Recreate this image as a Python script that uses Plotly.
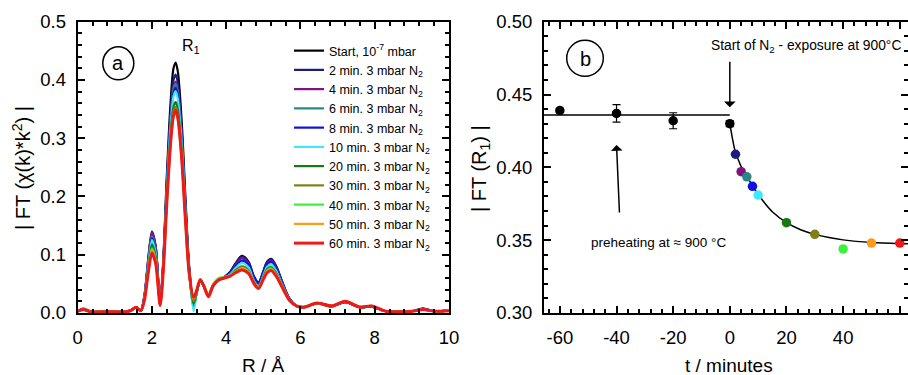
import plotly.graph_objects as go

# ---------------- data: panel (a) ----------------
R = [0.0, 0.15, 0.35, 0.7, 1.0, 1.3, 1.45, 1.57, 1.7, 1.8, 1.9, 2.0, 2.1, 2.22, 2.3, 2.4, 2.5, 2.58,
     2.64, 2.7, 2.8, 2.9, 3.0, 3.12, 3.2, 3.3, 3.4, 3.52, 3.65, 3.8, 3.95, 4.1, 4.25, 4.42, 4.6, 4.75,
     4.87, 5.0, 5.1, 5.21, 5.35, 5.5, 5.7, 5.9, 6.1, 6.44, 6.85, 7.2, 7.6, 7.92, 8.3, 8.7, 9.0, 9.3,
     9.6, 10.0]

ft_start = [0.003, 0.007, 0.002, 0.002, 0.002, 0.002, 0.005, 0.010, 0.004, 0.030, 0.090, 0.136, 0.112, 0.015,
            0.085, 0.235, 0.360, 0.420, 0.430, 0.413, 0.330, 0.200, 0.082, 0.018, 0.035, 0.056, 0.045, 0.031,
            0.048, 0.057, 0.062, 0.070, 0.085, 0.098, 0.088, 0.062, 0.052, 0.072, 0.088, 0.093, 0.080, 0.055,
            0.025, 0.012, 0.010, 0.017, 0.012, 0.019, 0.010, 0.011, 0.003, 0.002, 0.003, 0.006, 0.003, 0.004]
ft_2min = [0.003, 0.006, 0.002, 0.002, 0.002, 0.002, 0.005, 0.010, 0.004, 0.031, 0.093, 0.140, 0.115, 0.015,
           0.081, 0.224, 0.342, 0.400, 0.409, 0.393, 0.314, 0.190, 0.078, 0.015, 0.034, 0.056, 0.045, 0.030,
           0.047, 0.057, 0.062, 0.070, 0.084, 0.097, 0.087, 0.061, 0.050, 0.071, 0.087, 0.092, 0.079, 0.054,
           0.025, 0.012, 0.010, 0.017, 0.012, 0.019, 0.010, 0.011, 0.003, 0.002, 0.003, 0.007, 0.003, 0.004]
ft_4min = [0.003, 0.006, 0.002, 0.002, 0.002, 0.002, 0.005, 0.010, 0.004, 0.031, 0.092, 0.139, 0.114, 0.015,
           0.079, 0.217, 0.332, 0.388, 0.397, 0.381, 0.305, 0.185, 0.076, 0.012, 0.034, 0.056, 0.045, 0.030,
           0.047, 0.056, 0.061, 0.068, 0.082, 0.094, 0.085, 0.059, 0.048, 0.069, 0.085, 0.090, 0.077, 0.053,
           0.024, 0.012, 0.010, 0.017, 0.012, 0.019, 0.010, 0.011, 0.003, 0.002, 0.003, 0.006, 0.003, 0.004]
ft_6min = [0.004, 0.008, 0.003, 0.002, 0.002, 0.002, 0.005, 0.010, 0.004, 0.029, 0.087, 0.132, 0.109, 0.014,
           0.078, 0.215, 0.329, 0.384, 0.3935, 0.378, 0.302, 0.183, 0.075, 0.008, 0.033, 0.057, 0.046, 0.030,
           0.048, 0.057, 0.061, 0.067, 0.080, 0.090, 0.082, 0.058, 0.047, 0.067, 0.082, 0.087, 0.075, 0.052,
           0.024, 0.012, 0.010, 0.017, 0.012, 0.019, 0.010, 0.011, 0.003, 0.002, 0.003, 0.006, 0.003, 0.004]
ft_8min = [0.003, 0.006, 0.002, 0.002, 0.002, 0.002, 0.005, 0.010, 0.004, 0.028, 0.085, 0.128, 0.106, 0.014,
           0.077, 0.212, 0.324, 0.378, 0.387, 0.372, 0.297, 0.180, 0.074, 0.010, 0.034, 0.056, 0.045, 0.030,
           0.047, 0.056, 0.061, 0.068, 0.080, 0.090, 0.083, 0.062, 0.052, 0.069, 0.083, 0.088, 0.076, 0.053,
           0.024, 0.012, 0.010, 0.017, 0.012, 0.018, 0.010, 0.011, 0.003, 0.002, 0.003, 0.008, 0.003, 0.004]
ft_10min = [0.003, 0.006, 0.002, 0.002, 0.002, 0.002, 0.005, 0.010, 0.004, 0.028, 0.083, 0.125, 0.103, 0.014,
            0.075, 0.208, 0.319, 0.372, 0.381, 0.366, 0.292, 0.177, 0.073, 0.003, 0.032, 0.056, 0.045, 0.030,
            0.047, 0.056, 0.060, 0.066, 0.077, 0.086, 0.078, 0.055, 0.046, 0.065, 0.079, 0.084, 0.072, 0.050,
            0.023, 0.012, 0.010, 0.017, 0.012, 0.019, 0.010, 0.011, 0.003, 0.002, 0.003, 0.006, 0.003, 0.004]
ft_20min = [0.003, 0.006, 0.002, 0.002, 0.002, 0.002, 0.005, 0.010, 0.004, 0.026, 0.078, 0.118, 0.097, 0.014,
            0.072, 0.198, 0.303, 0.354, 0.362, 0.348, 0.278, 0.168, 0.071, 0.015, 0.034, 0.057, 0.046, 0.030,
            0.048, 0.057, 0.060, 0.064, 0.073, 0.080, 0.073, 0.053, 0.045, 0.062, 0.075, 0.079, 0.068, 0.048,
            0.023, 0.012, 0.010, 0.016, 0.011, 0.019, 0.010, 0.011, 0.003, 0.002, 0.003, 0.006, 0.003, 0.004]
ft_30min = [0.003, 0.006, 0.002, 0.002, 0.002, 0.002, 0.005, 0.010, 0.004, 0.025, 0.074, 0.112, 0.092, 0.013,
            0.070, 0.193, 0.296, 0.346, 0.354, 0.340, 0.272, 0.165, 0.070, 0.020, 0.036, 0.057, 0.046, 0.030,
            0.048, 0.057, 0.060, 0.064, 0.072, 0.079, 0.072, 0.052, 0.044, 0.061, 0.074, 0.078, 0.067, 0.048,
            0.023, 0.012, 0.010, 0.017, 0.012, 0.020, 0.010, 0.012, 0.003, 0.002, 0.003, 0.006, 0.003, 0.004]
ft_40min = [0.003, 0.006, 0.002, 0.002, 0.002, 0.002, 0.005, 0.010, 0.004, 0.024, 0.073, 0.110, 0.090, 0.013,
            0.068, 0.188, 0.288, 0.336, 0.344, 0.330, 0.264, 0.160, 0.068, 0.025, 0.038, 0.058, 0.047, 0.031,
            0.050, 0.060, 0.062, 0.065, 0.071, 0.077, 0.071, 0.052, 0.045, 0.060, 0.072, 0.076, 0.066, 0.047,
            0.023, 0.013, 0.011, 0.017, 0.012, 0.020, 0.011, 0.012, 0.003, 0.002, 0.003, 0.006, 0.003, 0.004]
ft_50min = [0.003, 0.006, 0.002, 0.002, 0.002, 0.002, 0.005, 0.010, 0.004, 0.024, 0.071, 0.107, 0.088, 0.013,
            0.069, 0.190, 0.291, 0.340, 0.348, 0.334, 0.267, 0.162, 0.069, 0.025, 0.038, 0.057, 0.046, 0.029,
            0.048, 0.058, 0.061, 0.064, 0.070, 0.076, 0.070, 0.051, 0.043, 0.059, 0.071, 0.075, 0.065, 0.046,
            0.023, 0.012, 0.010, 0.017, 0.012, 0.020, 0.011, 0.012, 0.003, 0.002, 0.003, 0.006, 0.003, 0.004]
ft_60min = [0.003, 0.006, 0.002, 0.002, 0.002, 0.002, 0.005, 0.010, 0.004, 0.023, 0.069, 0.103, 0.085, 0.013,
            0.068, 0.189, 0.290, 0.339, 0.348, 0.334, 0.266, 0.161, 0.070, 0.027, 0.038, 0.057, 0.046, 0.028,
            0.047, 0.057, 0.060, 0.063, 0.069, 0.074, 0.068, 0.050, 0.042, 0.058, 0.069, 0.073, 0.063, 0.045,
            0.022, 0.012, 0.010, 0.017, 0.012, 0.020, 0.010, 0.012, 0.003, 0.002, 0.003, 0.006, 0.003, 0.004]

series_names = ["Start, 10<sup>-7</sup> mbar", "2 min. 3 mbar N<sub>2</sub>", "4 min. 3 mbar N<sub>2</sub>",
                "6 min. 3 mbar N<sub>2</sub>", "8 min. 3 mbar N<sub>2</sub>", "10 min. 3 mbar N<sub>2</sub>",
                "20 min. 3 mbar N<sub>2</sub>", "30 min. 3 mbar N<sub>2</sub>", "40 min. 3 mbar N<sub>2</sub>",
                "50 min. 3 mbar N<sub>2</sub>", "60 min. 3 mbar N<sub>2</sub>"]
series_values = [ft_start, ft_2min, ft_4min, ft_6min, ft_8min, ft_10min, ft_20min, ft_30min, ft_40min,
                 ft_50min, ft_60min]
series_colors = ["#000000", "#1c1c80", "#80147f", "#2a8585", "#1010e6", "#3fe8ff", "#157a15", "#80801a",
                 "#3cf03c", "#ff9a1a", "#f01818"]

# ---------------- data: panel (b) ----------------
t_pre = [-60, -40, -20, 0]
ft_pre = [0.439, 0.437, 0.432, 0.430]
ft_pre_err = [0.0012, 0.006, 0.0055, 0.002]
t_exp = [2, 4, 6, 8, 10, 20, 30, 40, 50, 60]
ft_exp = [0.409, 0.397, 0.3935, 0.387, 0.381, 0.362, 0.354, 0.344, 0.348, 0.348]
pre_line_t = [-65.6, 0]
pre_line_v = [0.436, 0.436]
fit_t = [0, 1, 2, 3, 4, 6, 8, 10, 12.5, 15, 20, 25, 30, 35, 40, 50, 60, 65]
fit_v = [0.430, 0.419, 0.410, 0.4052, 0.4005, 0.3938, 0.3875, 0.3815, 0.375, 0.3695, 0.362, 0.3572, 0.354,
         0.3518, 0.3502, 0.3484, 0.3476, 0.3474]
tb_vals = [-60, -40, -20, 0, 20, 40, 60]
tb_text = ["-60", "-40", "-20", "0", "20", "40", "60"]

W, H = 908, 375
FONT = "Liberation Sans, Arial, sans-serif"


def fx(p):
    return p / W


def fy(p):
    return 1 - p / H


fig = go.Figure()

for name, vals, col in zip(series_names, series_values, series_colors):
    fig.add_trace(go.Scatter(x=R, y=vals, mode="lines", name=name, xaxis="x", yaxis="y",
                             line=dict(color=col, width=3 if col == "#f01818" else 2.2,
                                       shape="spline", smoothing=0.8)))

fig.add_trace(go.Scatter(x=pre_line_t, y=pre_line_v, mode="lines", xaxis="x2", yaxis="y2",
                         line=dict(color="black", width=1.5), showlegend=False))
fig.add_trace(go.Scatter(x=fit_t, y=fit_v, mode="lines", xaxis="x2", yaxis="y2",
                         line=dict(color="black", width=1.5, shape="spline", smoothing=0.6),
                         showlegend=False))
fig.add_trace(go.Scatter(x=t_pre, y=ft_pre, mode="markers", xaxis="x2", yaxis="y2", showlegend=False,
                         marker=dict(color="black", size=9.5),
                         error_y=dict(type="data", array=ft_pre_err, color="black", thickness=1.2, width=4)))
fig.add_trace(go.Scatter(x=t_exp, y=ft_exp, mode="markers", xaxis="x2", yaxis="y2", showlegend=False,
                         marker=dict(color=series_colors[1:], size=9.5)))

ax_common = dict(showline=True, linewidth=2, linecolor="black", mirror="ticks", ticks="inside",
                 ticklen=7, tickwidth=1.5, tickcolor="black", showgrid=False, zeroline=False,
                 tickfont=dict(family=FONT, size=18.5, color="black"), automargin=False)

ydom = [fy(313), fy(21.7)]
fig.update_layout(
    width=W, height=H, margin=dict(l=0, r=0, t=0, b=0),
    paper_bgcolor="white", plot_bgcolor="white",
    font=dict(family=FONT, color="black"),
    xaxis=dict(domain=[fx(77.7), fx(449)], range=[0, 10], dtick=2, tick0=0, anchor="y",
               minor=dict(dtick=0.4, ticks="inside", ticklen=4, tickwidth=1.5, tickcolor="black"),
               ticklabelstandoff=7, **ax_common),
    yaxis=dict(domain=ydom, range=[0, 0.5], dtick=0.1, tick0=0, tickformat=".1f", anchor="x",
               minor=dict(dtick=0.02, ticks="inside", ticklen=4, tickwidth=1.5, tickcolor="black"),
               ticklabelstandoff=6, **ax_common),
    xaxis2=dict(domain=[fx(544), 1.0], range=[-65.6, 62.9], tickvals=tb_vals, ticktext=tb_text,
                anchor="y2",
                minor=dict(dtick=4, tick0=0, ticks="inside", ticklen=4, tickwidth=1.5, tickcolor="black"),
                ticklabelstandoff=7, **ax_common),
    yaxis2=dict(domain=ydom, range=[0.30, 0.50], dtick=0.05, tick0=0.3, tickformat=".2f", anchor="x2",
                minor=dict(dtick=0.01, ticks="inside", ticklen=4, tickwidth=1.5, tickcolor="black"),
                ticklabelstandoff=6, **ax_common),
    legend=dict(x=fx(289), y=fy(36), xanchor="left", yanchor="top", bgcolor="rgba(0,0,0,0)",
                font=dict(family=FONT, size=12.5, color="black"), borderwidth=0, tracegroupgap=0),
)

anns = [
    dict(text="R / Å", x=fx(263), y=fy(365), font=dict(size=19)),
    dict(text="t / minutes", x=fx(729), y=fy(365), font=dict(size=19)),
    dict(text="| FT (χ(k)*k<sup>2</sup>) |", x=fx(22), y=fy(168), textangle=-90, font=dict(size=20)),
    dict(text="| FT (R<sub>1</sub>) |", x=fx(481), y=fy(168), textangle=-90, font=dict(size=20)),
    dict(text="R<sub>1</sub>", x=fx(191), y=fy(47), font=dict(size=16)),
    dict(text="a", x=fx(118.3), y=fy(63), font=dict(size=20)),
    dict(text="b", x=fx(585), y=fy(58.5), font=dict(size=20)),
    dict(text="Start of N<sub>2</sub> - exposure at 900°C", x=fx(806), y=fy(47), font=dict(size=13.8)),
    dict(text="preheating at ≈ 900 °C", x=fx(658), y=fy(242), font=dict(size=13.5)),
]
for a in anns:
    a.update(xref="paper", yref="paper", showarrow=False, xanchor="center", yanchor="middle")
    a["font"] = dict(family=FONT, color="black", **a["font"])
    fig.add_annotation(**a)

# arrows
fig.add_annotation(x=0, y=0.4412, xref="x2", yref="y2", ax=0, ay=-47, text="", showarrow=True,
                   arrowhead=1, arrowsize=1.3, arrowwidth=1.5, arrowcolor="black")
fig.add_annotation(x=-40, y=0.4154, xref="x2", yref="y2", ax=3, ay=69, text="", showarrow=True,
                   arrowhead=1, arrowsize=1.3, arrowwidth=1.5, arrowcolor="black")

# circles around panel letters
fig.add_shape(type="circle", xref="paper", yref="paper", x0=fx(102.8), x1=fx(133.8), y0=fy(79.8), y1=fy(46.8),
              line=dict(color="black", width=1.5))
fig.add_shape(type="circle", xref="paper", yref="paper", x0=fx(566.7), x1=fx(603.3), y0=fy(76.3), y1=fy(40.3),
              line=dict(color="black", width=1.5))

fig.write_html("out.html")
